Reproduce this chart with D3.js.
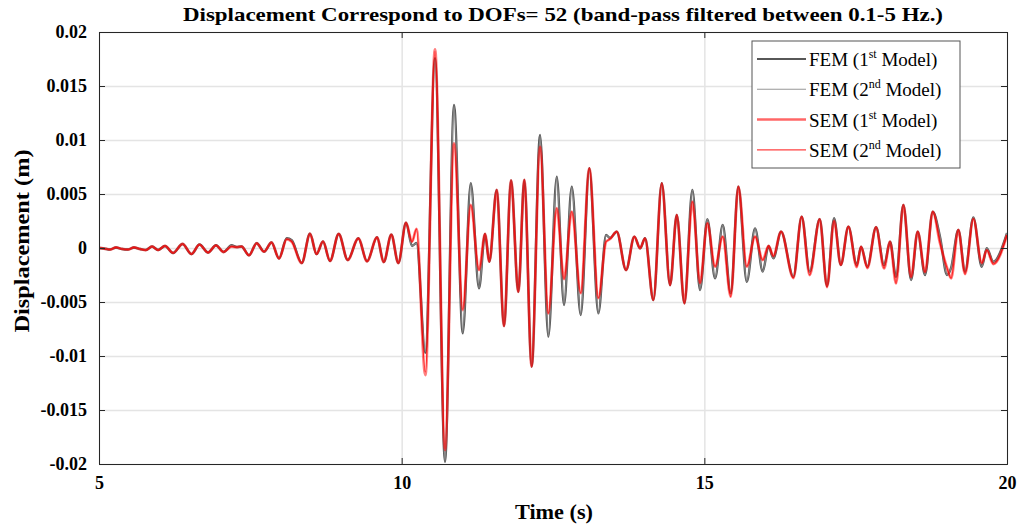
<!DOCTYPE html>
<html>
<head>
<meta charset="utf-8">
<script src="https://cdn.jsdelivr.net/npm/d3@7"></script>
<style>
  body { margin: 0; background: #fff; }
  svg { display: block; }
  text { font-family: "Liberation Serif", "Times New Roman", serif; fill: #000; }
</style>
</head>
<body>
<div id="chart"></div>
<script>
// time (s) of the points (peaks, troughs, shoulders)
const time = [
  5.000, 5.083, 5.182, 5.281, 5.380, 5.479, 5.578, 5.677, 5.776, 5.876,
  5.975, 6.090, 6.223, 6.380, 6.528, 6.660, 6.801, 6.933, 7.057, 7.189,
  7.272, 7.354, 7.478, 7.605, 7.726, 7.850, 7.974, 8.101, 8.184, 8.349,
  8.486, 8.593, 8.701, 8.816, 8.960, 9.109, 9.284, 9.428, 9.593, 9.704,
  9.829, 9.945, 10.072, 10.171, 10.245, 10.391, 10.551, 10.716, 10.865, 11.009,
  11.141, 11.278, 11.377, 11.448, 11.570, 11.691, 11.807, 11.927, 12.027, 12.147,
  12.286, 12.423, 12.562, 12.682, 12.810, 12.958, 13.100, 13.249, 13.376, 13.442,
  13.553, 13.707, 13.844, 13.938, 14.021, 14.158, 14.297, 14.434, 14.545, 14.671,
  14.802, 14.929, 15.050, 15.177, 15.304, 15.436, 15.562, 15.701, 15.838, 15.965,
  16.061, 16.140, 16.268, 16.471, 16.608, 16.740, 16.906, 17.027, 17.143, 17.254,
  17.380, 17.518, 17.589, 17.693, 17.837, 17.969, 18.068, 18.167, 18.288, 18.415,
  18.525, 18.646, 18.773, 18.894, 19.010, 19.076, 19.196, 19.307, 19.444, 19.583,
  19.666, 19.775, 20.000
];

// displacement (m)
const fem1 = [
  0, -0.00005, -0.00014, 0.00005, -0.00009, -0.00014, 0.00005, -0.00009, -0.00019, 0.00014,
  -0.00019, 0.00019, -0.00046, 0.00037, -0.00056, 0.00032, -0.00042, 0.00025, -0.00037, 0.00025,
  0.00009, 0.00014, -0.00068, 0.00044, -0.00034, 0.00051, -0.00097, 0.00090, 0.00072, -0.00139,
  0.00132, -0.00056, 0.00060, -0.00120, 0.00130, -0.00111, 0.00090, -0.00123, 0.00099, -0.00130,
  0.00123, -0.00139, 0.00234, 0.00019, 0.00046, -0.00970, 0.01757, -0.01979, 0.01324, -0.00790,
  0.00599, -0.00373, 0.00130, -0.00127, 0.00537, -0.00722, 0.00625, -0.00405, 0.00630, -0.01099,
  0.01046, -0.00821, 0.00660, -0.00528, 0.00568, -0.00620, 0.00738, -0.00605, 0.00120, 0.00093,
  0.00151, -0.00204, 0.00105, -0.00003, 0.00090, -0.00481, 0.00599, -0.00343, 0.00306, -0.00512,
  0.00537, -0.00389, 0.00266, -0.00281, 0.00213, -0.00419, 0.00568, -0.00312, 0.00182, -0.00219,
  0.00019, -0.00095, 0.00151, -0.00266, 0.00290, -0.00219, 0.00266, -0.00352, 0.00275, -0.00157,
  0.00197, -0.00157, 0.00012, -0.00173, 0.00192, -0.00160, 0.00058, -0.00266, 0.00398, -0.00296,
  0.00151, -0.00250, 0.00336, 0.00102, -0.00250, -0.00185, 0.00167, -0.00219, 0.00284, -0.00173,
  -0.00003, -0.00127, 0.00139
];
const fem2 = [
  0, -0.00005, -0.00014, 0.00005, -0.00009, -0.00014, 0.00005, -0.00009, -0.00019, 0.00014,
  -0.00019, 0.00019, -0.00046, 0.00037, -0.00056, 0.00032, -0.00042, 0.00025, -0.00037, 0.00025,
  0.00009, 0.00014, -0.00068, 0.00044, -0.00034, 0.00051, -0.00097, 0.00090, 0.00072, -0.00139,
  0.00132, -0.00056, 0.00060, -0.00120, 0.00130, -0.00111, 0.00090, -0.00123, 0.00099, -0.00130,
  0.00123, -0.00139, 0.00234, 0.00019, 0.00046, -0.00960, 0.01750, -0.01975, 0.01320, -0.00785,
  0.00599, -0.00373, 0.00130, -0.00127, 0.00537, -0.00722, 0.00625, -0.00405, 0.00630, -0.01099,
  0.01040, -0.00815, 0.00655, -0.00525, 0.00565, -0.00618, 0.00738, -0.00605, 0.00120, 0.00093,
  0.00151, -0.00204, 0.00105, -0.00003, 0.00090, -0.00481, 0.00599, -0.00343, 0.00306, -0.00512,
  0.00537, -0.00389, 0.00266, -0.00281, 0.00213, -0.00419, 0.00568, -0.00312, 0.00182, -0.00219,
  0.00019, -0.00095, 0.00151, -0.00266, 0.00290, -0.00219, 0.00266, -0.00352, 0.00275, -0.00157,
  0.00197, -0.00157, 0.00012, -0.00173, 0.00192, -0.00160, 0.00058, -0.00266, 0.00398, -0.00296,
  0.00151, -0.00250, 0.00336, 0.00102, -0.00250, -0.00185, 0.00167, -0.00219, 0.00284, -0.00173,
  -0.00003, -0.00127, 0.00139
];
const sem1 = [
  0, -0.00005, -0.00014, 0.00005, -0.00009, -0.00014, 0.00005, -0.00009, -0.00019, 0.00014,
  -0.00019, 0.00019, -0.00046, 0.00037, -0.00056, 0.00032, -0.00042, 0.00025, -0.00037, 0.00012,
  0.00009, 0.00014, -0.00068, 0.00044, -0.00034, 0.00051, -0.00097, 0.00081, 0.00058, -0.00139,
  0.00132, -0.00056, 0.00060, -0.00120, 0.00130, -0.00111, 0.00090, -0.00123, 0.00099, -0.00130,
  0.00123, -0.00139, 0.00234, 0.00058, 0.00178, -0.01176, 0.01840, -0.01870, 0.00969, -0.00574,
  0.00398, -0.00204, 0.00130, -0.00127, 0.00537, -0.00722, 0.00625, -0.00405, 0.00630, -0.01099,
  0.00938, -0.00605, 0.00368, -0.00287, 0.00336, -0.00417, 0.00738, -0.00463, 0.00058, 0.00083,
  0.00151, -0.00204, 0.00105, -0.00003, 0.00090, -0.00481, 0.00599, -0.00343, 0.00306, -0.00512,
  0.00429, -0.00324, 0.00231, -0.00173, 0.00105, -0.00450, 0.00568, -0.00173, 0.00105, -0.00111,
  0.00019, -0.00074, 0.00151, -0.00278, 0.00290, -0.00250, 0.00266, -0.00361, 0.00250, -0.00157,
  0.00197, -0.00176, 0.00012, -0.00185, 0.00192, -0.00188, 0.00058, -0.00327, 0.00398, -0.00269,
  0.00151, -0.00222, 0.00336, 0.00044, -0.00185, -0.00280, 0.00167, -0.00241, 0.00269, -0.00139,
  -0.00019, -0.00148, 0.00120
];
const sem2 = [
  0, -0.00005, -0.00014, 0.00005, -0.00009, -0.00014, 0.00005, -0.00009, -0.00019, 0.00014,
  -0.00019, 0.00019, -0.00046, 0.00037, -0.00056, 0.00032, -0.00042, 0.00025, -0.00037, 0.00012,
  0.00009, 0.00014, -0.00068, 0.00044, -0.00034, 0.00051, -0.00097, 0.00081, 0.00058, -0.00139,
  0.00132, -0.00056, 0.00060, -0.00120, 0.00130, -0.00111, 0.00090, -0.00123, 0.00099, -0.00130,
  0.00123, -0.00139, 0.00234, 0.00058, 0.00178, -0.01150, 0.01820, -0.01860, 0.00965, -0.00570,
  0.00398, -0.00204, 0.00130, -0.00127, 0.00537, -0.00722, 0.00625, -0.00405, 0.00630, -0.01099,
  0.00935, -0.00605, 0.00368, -0.00287, 0.00336, -0.00417, 0.00738, -0.00463, 0.00058, 0.00083,
  0.00151, -0.00204, 0.00105, -0.00003, 0.00090, -0.00481, 0.00599, -0.00343, 0.00306, -0.00512,
  0.00429, -0.00324, 0.00231, -0.00173, 0.00105, -0.00450, 0.00568, -0.00173, 0.00105, -0.00111,
  0.00019, -0.00074, 0.00151, -0.00278, 0.00290, -0.00250, 0.00266, -0.00361, 0.00250, -0.00157,
  0.00197, -0.00176, 0.00012, -0.00185, 0.00192, -0.00188, 0.00058, -0.00327, 0.00398, -0.00269,
  0.00151, -0.00222, 0.00336, 0.00044, -0.00185, -0.00280, 0.00167, -0.00241, 0.00269, -0.00139,
  -0.00019, -0.00148, 0.00120
];

const xTicks = [5, 10, 15, 20];
const yTicks = [-0.02, -0.015, -0.01, -0.005, 0, 0.005, 0.01, 0.015, 0.02];
const yTickLabels = ["-0.02", "-0.015", "-0.01", "-0.005", "0", "0.005", "0.01", "0.015", "0.02"];

const seriesNames = ["FEM", "FEM", "SEM", "SEM"];
const seriesOrdinals = [["1", "st"], ["2", "nd"], ["1", "st"], ["2", "nd"]];

const width = 1023;
const height = 530;
const margin = { top: 32, right: 16, bottom: 66, left: 99 };

const svg = d3.select("#chart")
  .append("svg")
  .attr("width", width)
  .attr("height", height);

const xScale = d3.scaleLinear()
  .domain([5, 20])
  .range([margin.left, width - margin.right]);

const yScale = d3.scaleLinear()
  .domain([-0.02, 0.02])
  .range([height - margin.bottom, margin.top]);

const usableArea = {
  top: margin.top,
  right: width - margin.right,
  bottom: height - margin.bottom,
  left: margin.left,
  width: width - margin.left - margin.right,
  height: height - margin.top - margin.bottom,
};

// gridlines
svg.append("g")
  .attr("class", "gridlines")
  .attr("transform", `translate(${usableArea.left}, 0)`)
  .call(d3.axisLeft(yScale).tickValues(yTicks).tickFormat("").tickSize(-usableArea.width))
  .call(g => g.select(".domain").remove())
  .call(g => g.selectAll("line").attr("stroke", "#e4e4e4").attr("stroke-width", 1.5));

svg.append("g")
  .attr("transform", `translate(0, ${usableArea.bottom})`)
  .call(d3.axisBottom(xScale).tickValues(xTicks).tickFormat("").tickSize(-usableArea.height))
  .call(g => g.select(".domain").remove())
  .call(g => g.selectAll("line").attr("stroke", "#e4e4e4").attr("stroke-width", 1.5));

// lines
svg.append("defs").append("clipPath").attr("id", "plot-clip")
  .append("rect")
  .attr("x", usableArea.left).attr("y", usableArea.top)
  .attr("width", usableArea.width).attr("height", usableArea.height);

const line = values => d3.line()
  .x((d, i) => xScale(time[i]))
  .y(d => yScale(d))
  .curve(d3.curveMonotoneX)(values);

const styles = [
  { color: "#3a3a3a", width: 2.4, opacity: 0.85 },
  { color: "#8c8c8c", width: 1.3, opacity: 0.9 },
  { color: "#ff0000", width: 2.8, opacity: 0.5 },
  { color: "#ff0000", width: 1.2, opacity: 0.75 },
];
const allSeries = [fem1, fem2, sem1, sem2];

const lines = svg.append("g").attr("clip-path", "url(#plot-clip)");
allSeries.forEach((s, i) => {
  lines.append("path")
    .attr("d", line(s))
    .attr("fill", "none")
    .attr("stroke", styles[i].color)
    .attr("stroke-width", styles[i].width)
    .attr("stroke-opacity", styles[i].opacity)
    .attr("stroke-linejoin", "round");
});

// axes box with inside ticks on all sides
const axisColor = "#262626";
svg.append("g")
  .attr("transform", `translate(0, ${usableArea.bottom})`)
  .call(d3.axisBottom(xScale).tickValues(xTicks).tickSize(-6).tickPadding(12))
  .call(g => g.select(".domain").attr("stroke", axisColor))
  .call(g => g.selectAll("line").attr("stroke", axisColor))
  .call(g => g.selectAll("text")
    .style("font-family", "'Liberation Serif', serif")
    .style("font-weight", "bold")
    .style("font-size", "18px")
    .attr("fill", "#000"));

svg.append("g")
  .attr("transform", `translate(0, ${usableArea.top})`)
  .call(d3.axisTop(xScale).tickValues(xTicks).tickSize(-6).tickFormat(""))
  .call(g => g.select(".domain").attr("stroke", axisColor))
  .call(g => g.selectAll("line").attr("stroke", axisColor));

svg.append("g")
  .attr("transform", `translate(${usableArea.left}, 0)`)
  .call(d3.axisLeft(yScale).tickValues(yTicks).tickSize(-6).tickPadding(12)
    .tickFormat((d, i) => yTickLabels[i]))
  .call(g => g.select(".domain").attr("stroke", axisColor))
  .call(g => g.selectAll("line").attr("stroke", axisColor))
  .call(g => g.selectAll("text")
    .style("font-family", "'Liberation Serif', serif")
    .style("font-weight", "bold")
    .style("font-size", "18px")
    .attr("fill", "#000"));

svg.append("g")
  .attr("transform", `translate(${usableArea.right}, 0)`)
  .call(d3.axisRight(yScale).tickValues(yTicks).tickSize(-6).tickFormat(""))
  .call(g => g.select(".domain").attr("stroke", axisColor))
  .call(g => g.selectAll("line").attr("stroke", axisColor));

// title and axis labels
svg.append("text")
  .attr("x", 563)
  .attr("y", 21)
  .attr("text-anchor", "middle")
  .attr("textLength", 760)
  .attr("lengthAdjust", "spacingAndGlyphs")
  .style("font-weight", "bold")
  .style("font-size", "19px")
  .text("Displacement Correspond to DOFs= 52 (band-pass filtered between 0.1-5 Hz.)");

svg.append("text")
  .attr("x", 554)
  .attr("y", 519)
  .attr("text-anchor", "middle")
  .attr("textLength", 78)
  .attr("lengthAdjust", "spacingAndGlyphs")
  .style("font-weight", "bold")
  .style("font-size", "21px")
  .text("Time (s)");

svg.append("text")
  .attr("transform", "rotate(-90)")
  .attr("x", -241)
  .attr("y", 29)
  .attr("text-anchor", "middle")
  .attr("textLength", 183)
  .attr("lengthAdjust", "spacingAndGlyphs")
  .style("font-weight", "bold")
  .style("font-size", "21px")
  .text("Displacement (m)");

// legend
const legend = svg.append("g").attr("transform", "translate(752, 41)");
legend.append("rect")
  .attr("width", 208).attr("height", 127)
  .attr("fill", "#fff")
  .attr("stroke", "#555")
  .attr("stroke-width", 1);

seriesNames.forEach((name, i) => {
  const row = legend.append("g").attr("transform", `translate(0, ${18 + i * 30.3})`);
  row.append("line")
    .attr("x1", 5).attr("x2", 54)
    .attr("stroke", styles[i].color)
    .attr("stroke-width", i >= 2 ? styles[i].width * 0.9 : styles[i].width * 0.8)
    .attr("stroke-opacity", i === 2 ? 0.6 : styles[i].opacity);
  const t = row.append("text")
    .attr("x", 57)
    .attr("y", 7)
    .style("font-size", "19px");
  t.append("tspan").text(`${name} (${seriesOrdinals[i][0]}`);
  t.append("tspan").attr("dy", -8).style("font-size", "12px").text(seriesOrdinals[i][1]);
  t.append("tspan").attr("dy", 8).text(" Model)");
});
</script>
</body>
</html>
